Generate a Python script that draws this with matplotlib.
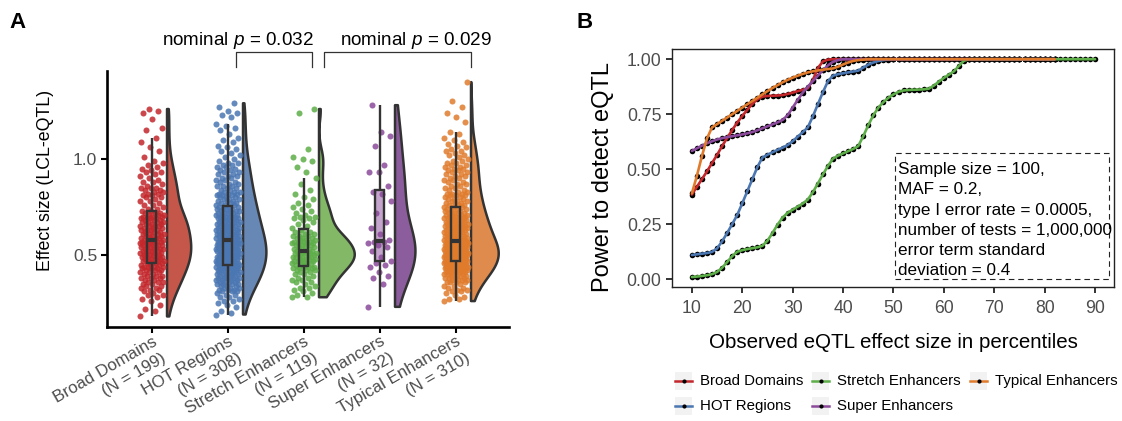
import numpy as np
import matplotlib
matplotlib.use("Agg")
import matplotlib.pyplot as plt
from matplotlib.patches import Rectangle, Polygon
from matplotlib.lines import Line2D
from matplotlib.colors import to_rgba

plt.rcParams["font.family"] = ["Liberation Sans", "DejaVu Sans"]
plt.rcParams["mathtext.fontset"] = "custom"
plt.rcParams["mathtext.rm"] = "Liberation Sans"
plt.rcParams["mathtext.it"] = "Liberation Sans:italic"

# ---------------- data: panel A (effect sizes per region type) ----------------
names = ["Broad Domains", "HOT Regions", "Stretch Enhancers", "Super Enhancers", "Typical Enhancers"]

broad = [0.18, 0.21, 0.22, 0.24,
         0.26, 0.27, 0.28, 0.29, 0.29, 0.30, 0.31, 0.32, 0.32, 0.33, 0.33, 0.34, 0.34, 0.35,
         0.35, 0.36, 0.36, 0.36, 0.37, 0.37, 0.38, 0.38, 0.38, 0.39, 0.39, 0.39, 0.40, 0.40,
         0.41, 0.41, 0.41, 0.42, 0.42, 0.42, 0.43, 0.43, 0.43, 0.44, 0.44, 0.44, 0.44, 0.45, 0.45, 0.45,
         0.46, 0.46, 0.46, 0.46, 0.47, 0.47, 0.47, 0.47, 0.48, 0.48, 0.48, 0.48, 0.49, 0.49, 0.49, 0.49,
         0.50, 0.50, 0.50, 0.50, 0.51, 0.51, 0.51, 0.51, 0.52, 0.52, 0.52, 0.52, 0.53, 0.53, 0.53, 0.53,
         0.54, 0.54, 0.54, 0.54, 0.55, 0.55, 0.55, 0.55, 0.56, 0.56, 0.56, 0.56, 0.57, 0.57, 0.57, 0.57,
         0.58, 0.58, 0.58, 0.58,
         0.59, 0.59, 0.59, 0.59, 0.60, 0.60, 0.60, 0.61, 0.61, 0.61, 0.61, 0.62, 0.62, 0.62,
         0.63, 0.63, 0.63, 0.63, 0.64, 0.64, 0.64, 0.65, 0.65, 0.65, 0.65, 0.66, 0.66, 0.66,
         0.67, 0.67, 0.67, 0.67, 0.68, 0.68, 0.68, 0.69, 0.69, 0.69, 0.69, 0.70, 0.70, 0.70,
         0.71, 0.71, 0.71, 0.72, 0.72, 0.72, 0.73, 0.73,
         0.74, 0.74, 0.75, 0.76, 0.76, 0.77, 0.78, 0.78, 0.79, 0.80, 0.80, 0.81, 0.81, 0.82,
         0.82, 0.83, 0.83, 0.84, 0.84, 0.85, 0.85, 0.85,
         0.86, 0.87, 0.88, 0.88, 0.89, 0.90, 0.91, 0.92, 0.93, 0.93, 0.94, 0.95, 0.96, 0.97, 0.98, 0.99,
         1.01, 1.04, 1.06, 1.09, 1.11, 1.15, 1.16, 1.21, 1.24, 1.25, 1.26]

hot = [0.19, 0.20, 0.21, 0.23, 0.24,
       0.25, 0.26, 0.26, 0.27, 0.28, 0.28, 0.29, 0.29, 0.30,
       0.31, 0.31, 0.31, 0.32, 0.32, 0.32, 0.33, 0.33, 0.33, 0.34, 0.34, 0.34, 0.35, 0.35, 0.35, 0.35,
       0.36, 0.36, 0.36, 0.36, 0.37, 0.37, 0.37, 0.37, 0.38, 0.38, 0.38, 0.38, 0.38,
       0.39, 0.39, 0.39, 0.39, 0.40, 0.40, 0.40, 0.40, 0.40,
       0.41, 0.41, 0.41, 0.41, 0.41, 0.42, 0.42, 0.42, 0.42, 0.42, 0.43, 0.43, 0.43, 0.43, 0.43, 0.43,
       0.44, 0.44, 0.44, 0.44, 0.44, 0.45, 0.45, 0.45, 0.45, 0.45, 0.45,
       0.46, 0.46, 0.46, 0.46, 0.46, 0.46, 0.47, 0.47, 0.47, 0.47, 0.47, 0.47,
       0.48, 0.48, 0.48, 0.48, 0.48, 0.48, 0.49, 0.49, 0.49, 0.49, 0.49, 0.49,
       0.50, 0.50, 0.50, 0.50, 0.50, 0.50, 0.51, 0.51, 0.51, 0.51, 0.51, 0.51,
       0.52, 0.52, 0.52, 0.52, 0.52, 0.52, 0.53, 0.53, 0.53, 0.53, 0.53, 0.53,
       0.54, 0.54, 0.54, 0.54, 0.54, 0.54, 0.55, 0.55, 0.55, 0.55, 0.55, 0.55,
       0.56, 0.56, 0.56, 0.56, 0.56, 0.56, 0.57, 0.57, 0.57, 0.57, 0.57, 0.57,
       0.58, 0.58, 0.58, 0.58, 0.58, 0.58, 0.59, 0.59, 0.59, 0.59, 0.59, 0.60, 0.60, 0.60, 0.60, 0.60,
       0.61, 0.61, 0.61, 0.61, 0.61, 0.62, 0.62, 0.62, 0.62, 0.62, 0.63, 0.63, 0.63, 0.63, 0.63,
       0.64, 0.64, 0.64, 0.64, 0.64, 0.65, 0.65, 0.65, 0.65,
       0.66, 0.66, 0.66, 0.66, 0.66, 0.67, 0.67, 0.67, 0.67, 0.68, 0.68, 0.68, 0.68,
       0.69, 0.69, 0.69, 0.69, 0.70, 0.70, 0.70, 0.70,
       0.71, 0.71, 0.71, 0.71, 0.72, 0.72, 0.72, 0.72, 0.73, 0.73, 0.73, 0.73,
       0.74, 0.74, 0.74, 0.74, 0.75, 0.75, 0.75,
       0.76, 0.76, 0.76, 0.77, 0.77, 0.77, 0.78, 0.78, 0.78, 0.79, 0.79, 0.79, 0.80, 0.80, 0.80,
       0.81, 0.81, 0.81, 0.82, 0.82, 0.82, 0.83, 0.83, 0.83, 0.84, 0.84, 0.85, 0.85,
       0.86, 0.86, 0.86, 0.87, 0.87, 0.88, 0.88, 0.89, 0.89, 0.90, 0.90,
       0.91, 0.91, 0.92, 0.92, 0.93, 0.93, 0.94, 0.94, 0.95,
       0.96, 0.96, 0.97, 0.97, 0.98, 0.98, 0.99, 1.00,
       1.01, 1.02, 1.03, 1.04, 1.05, 1.06, 1.07, 1.09, 1.10, 1.11, 1.13, 1.15,
       1.16, 1.17, 1.18, 1.22, 1.23, 1.24, 1.25, 1.27, 1.29]

stretch = [0.28, 0.28, 0.29, 0.30,
           0.31, 0.32, 0.33, 0.33, 0.34, 0.35,
           0.36, 0.36, 0.37, 0.37, 0.38, 0.38, 0.39, 0.40, 0.40,
           0.41, 0.41, 0.42, 0.42, 0.42, 0.43, 0.43, 0.43, 0.44, 0.44, 0.44, 0.45, 0.45,
           0.46, 0.46, 0.46, 0.46, 0.47, 0.47, 0.47, 0.47, 0.48, 0.48, 0.48, 0.48,
           0.49, 0.49, 0.49, 0.49, 0.50, 0.50, 0.50,
           0.51, 0.51, 0.51, 0.51, 0.51, 0.52, 0.52, 0.52, 0.52, 0.53, 0.53,
           0.54, 0.54, 0.54, 0.55, 0.55, 0.55,
           0.56, 0.56, 0.56, 0.56, 0.57, 0.57, 0.57, 0.58, 0.58, 0.58, 0.59, 0.59, 0.59,
           0.60, 0.60, 0.60, 0.61, 0.61, 0.62, 0.62, 0.63, 0.64, 0.65,
           0.66, 0.67, 0.68, 0.69, 0.69, 0.70, 0.70, 0.71, 0.72, 0.73, 0.74, 0.75,
           0.76, 0.77, 0.79, 0.80, 0.82, 0.84, 0.87, 0.90,
           0.93, 0.96, 0.99, 1.00, 1.01, 1.05, 1.24, 1.26]

superenh = [0.23, 0.35, 0.38, 0.39, 0.41, 0.44, 0.45, 0.46, 0.47, 0.49, 0.52, 0.54, 0.55, 0.56,
            0.57, 0.57, 0.58, 0.61, 0.64, 0.67, 0.72, 0.78, 0.82, 0.83, 0.86, 0.93, 0.93, 0.97,
            1.07, 1.12, 1.14, 1.28]

typical = [0.26, 0.27, 0.27, 0.28, 0.29, 0.30,
           0.31, 0.31, 0.32, 0.32, 0.33, 0.33, 0.34, 0.34, 0.35,
           0.36, 0.36, 0.36, 0.36, 0.37, 0.37, 0.37, 0.37, 0.38, 0.38, 0.38, 0.38,
           0.39, 0.39, 0.39, 0.39, 0.40, 0.40, 0.40, 0.40,
           0.41, 0.41, 0.41, 0.41, 0.41, 0.41, 0.42, 0.42, 0.42, 0.42, 0.42, 0.42,
           0.43, 0.43, 0.43, 0.43, 0.43, 0.43, 0.43, 0.44, 0.44, 0.44, 0.44, 0.44, 0.44, 0.44,
           0.45, 0.45, 0.45, 0.45, 0.45, 0.45, 0.45,
           0.46, 0.46, 0.46, 0.46, 0.46, 0.46, 0.46, 0.47, 0.47, 0.47, 0.47, 0.47, 0.47, 0.47,
           0.48, 0.48, 0.48, 0.48, 0.48, 0.48, 0.48, 0.49, 0.49, 0.49, 0.49, 0.49, 0.49, 0.49,
           0.50, 0.50, 0.50, 0.50, 0.50, 0.50, 0.50,
           0.51, 0.51, 0.51, 0.51, 0.51, 0.51, 0.51, 0.51, 0.52, 0.52, 0.52, 0.52, 0.52, 0.52, 0.52, 0.52,
           0.53, 0.53, 0.53, 0.53, 0.53, 0.53, 0.53, 0.53, 0.54, 0.54, 0.54, 0.54, 0.54, 0.54, 0.54, 0.54,
           0.55, 0.55, 0.55, 0.55, 0.55, 0.55, 0.55, 0.55,
           0.56, 0.56, 0.56, 0.56, 0.56, 0.56, 0.57, 0.57, 0.57, 0.57, 0.57, 0.57,
           0.58, 0.58, 0.58, 0.58, 0.58, 0.58, 0.59, 0.59, 0.59, 0.59, 0.59, 0.60, 0.60, 0.60, 0.60, 0.60,
           0.61, 0.61, 0.61, 0.61, 0.61, 0.62, 0.62, 0.62, 0.62, 0.62, 0.63, 0.63, 0.63, 0.63, 0.63,
           0.64, 0.64, 0.64, 0.64, 0.64, 0.65, 0.65, 0.65, 0.65, 0.65,
           0.66, 0.66, 0.66, 0.66, 0.66, 0.67, 0.67, 0.67, 0.67, 0.68, 0.68, 0.68, 0.68,
           0.69, 0.69, 0.69, 0.69, 0.70, 0.70, 0.70, 0.70,
           0.71, 0.71, 0.71, 0.71, 0.72, 0.72, 0.72, 0.72, 0.73, 0.73, 0.73, 0.74, 0.74, 0.74, 0.75, 0.75, 0.75,
           0.76, 0.76, 0.76, 0.77, 0.77, 0.77, 0.78, 0.78, 0.78, 0.79, 0.79, 0.79, 0.80, 0.80,
           0.81, 0.81, 0.81, 0.82, 0.82, 0.82, 0.83, 0.83, 0.84, 0.84, 0.85, 0.85,
           0.86, 0.86, 0.87, 0.87, 0.88, 0.88, 0.89, 0.89, 0.90, 0.90,
           0.91, 0.91, 0.92, 0.92, 0.93, 0.93, 0.94, 0.94, 0.95, 0.95,
           0.96, 0.96, 0.97, 0.97, 0.98, 0.98, 0.99, 0.99, 1.00,
           1.01, 1.02, 1.02, 1.03, 1.04, 1.04, 1.05, 1.06, 1.07, 1.08, 1.09, 1.10,
           1.11, 1.13, 1.14, 1.19, 1.22, 1.24, 1.27, 1.30, 1.40]

effect = [broad, hot, stretch, superenh, typical]

# nominal p-value brackets (x from / to in category units)
brackets = [(2.11, 3.11, "nominal $p$ = 0.032", 2.13), (3.26, 5.20, "nominal $p$ = 0.029", 4.47)]

# ---------------- data: panel B (power curves) ----------------
percentiles = [10, 11, 12, 13, 14, 15, 16, 17, 18, 19, 20, 21, 22, 23, 24, 25, 26, 27, 28, 29,
               30, 31, 32, 33, 34, 35, 36, 37, 38, 39, 40, 41, 42, 43, 44, 45, 46, 47, 48, 49,
               50, 51, 52, 53, 54, 55, 56, 57, 58, 59, 60, 61, 62, 63, 64, 65, 66, 67, 68, 69,
               70, 71, 72, 73, 74, 75, 76, 77, 78, 79, 80, 81, 82, 83, 84, 85, 86, 87, 88, 89, 90]

power_broad = [0.385, 0.420, 0.455, 0.490, 0.528, 0.565, 0.605, 0.642, 0.678, 0.712,
               0.742, 0.770, 0.797, 0.818, 0.830, 0.833, 0.834, 0.835, 0.837, 0.842,
               0.848, 0.855, 0.861, 0.868, 0.905, 0.960, 0.990, 0.998, 1.0, 1.0,
               1.0, 1.0, 1.0, 1.0, 1.0, 1.0, 1.0, 1.0, 1.0, 1.0,
               1.0, 1.0, 1.0, 1.0, 1.0, 1.0, 1.0, 1.0, 1.0, 1.0,
               1.0, 1.0, 1.0, 1.0, 1.0, 1.0, 1.0, 1.0, 1.0, 1.0,
               1.0, 1.0, 1.0, 1.0, 1.0, 1.0, 1.0, 1.0, 1.0, 1.0,
               1.0, 1.0, 1.0]
power_hot = [0.110, 0.113, 0.116, 0.119, 0.124, 0.140, 0.172, 0.210, 0.250, 0.292,
             0.345, 0.400, 0.455, 0.510, 0.553, 0.566, 0.577, 0.588, 0.598, 0.610,
             0.627, 0.648, 0.668, 0.690, 0.740, 0.795, 0.850, 0.900, 0.925, 0.932,
             0.936, 0.940, 0.944, 0.948, 0.962, 0.975, 0.985, 0.992, 0.996, 0.998,
             1.0, 1.0, 1.0, 1.0, 1.0, 1.0, 1.0, 1.0, 1.0, 1.0,
             1.0, 1.0, 1.0, 1.0, 1.0, 1.0, 1.0, 1.0, 1.0, 1.0,
             1.0, 1.0, 1.0, 1.0, 1.0, 1.0, 1.0, 1.0, 1.0, 1.0,
             1.0, 1.0, 1.0]
power_stretch = [0.010, 0.012, 0.015, 0.018, 0.023, 0.033, 0.052, 0.078, 0.105, 0.125,
                 0.132, 0.137, 0.141, 0.145, 0.152, 0.175, 0.210, 0.248, 0.280, 0.302,
                 0.316, 0.330, 0.344, 0.362, 0.395, 0.435, 0.476, 0.515, 0.548, 0.562,
                 0.572, 0.582, 0.592, 0.605, 0.650, 0.700, 0.745, 0.780, 0.805, 0.825,
                 0.840, 0.852, 0.858, 0.860, 0.861, 0.862, 0.863, 0.866, 0.880, 0.898,
                 0.915, 0.930, 0.945, 0.970, 0.993, 1.0, 1.0, 1.0, 1.0, 1.0,
                 1.0, 1.0, 1.0, 1.0, 1.0, 1.0, 1.0, 1.0, 1.0, 1.0,
                 1.0, 1.0, 1.0, 1.0, 1.0, 1.0, 1.0, 1.0, 1.0, 1.0, 1.0]
power_super = [0.583, 0.595, 0.607, 0.618, 0.627, 0.635, 0.641, 0.646, 0.650, 0.654,
               0.658, 0.663, 0.669, 0.677, 0.686, 0.695, 0.704, 0.713, 0.724, 0.745,
               0.780, 0.815, 0.848, 0.875, 0.900, 0.925, 0.950, 0.972, 0.988, 0.996,
               1.0, 1.0, 1.0, 1.0, 1.0, 1.0, 1.0, 1.0, 1.0, 1.0,
               1.0, 1.0, 1.0, 1.0, 1.0, 1.0, 1.0, 1.0, 1.0, 1.0,
               1.0, 1.0, 1.0, 1.0, 1.0, 1.0, 1.0, 1.0, 1.0, 1.0,
               1.0, 1.0, 1.0, 1.0, 1.0, 1.0, 1.0, 1.0, 1.0, 1.0,
               1.0, 1.0, 1.0]
power_typical = [0.390, 0.470, 0.560, 0.640, 0.690, 0.705, 0.720, 0.735, 0.750, 0.765,
                 0.780, 0.795, 0.810, 0.825, 0.840, 0.855, 0.869, 0.882, 0.895, 0.906,
                 0.916, 0.925, 0.933, 0.940, 0.945, 0.949, 0.952, 0.955, 0.958, 0.966,
                 0.976, 0.985, 0.992, 0.996, 0.998, 1.0, 1.0, 1.0, 1.0, 1.0,
                 1.0, 1.0, 1.0, 1.0, 1.0, 1.0, 1.0, 1.0, 1.0, 1.0,
                 1.0, 1.0, 1.0, 1.0, 1.0, 1.0, 1.0, 1.0, 1.0, 1.0,
                 1.0, 1.0, 1.0, 1.0, 1.0, 1.0, 1.0, 1.0, 1.0, 1.0,
                 1.0, 1.0, 1.0]
power = [power_broad, power_hot, power_stretch, power_super, power_typical]

box_lines = ["Sample size = 100,", "MAF = 0.2,", "type I error rate = 0.0005,",
             "number of tests = 1,000,000", "error term standard", "deviation = 0.4"]

colors = ["#C3272B", "#4A76B2", "#5DAE48", "#8B4A9B", "#E07B2C"]
violin_colors = ["#C4574A", "#6787B5", "#82B866", "#8C5D9D", "#DF8B4D"]
dark = "#333333"
grey = "#4D4D4D"

W, H = 1122, 421
fig = plt.figure(figsize=(W / 100, H / 100), dpi=100)


def kde(v):
    n = len(v)
    q25, q75 = np.percentile(v, [25, 75])
    bw = 0.9 * min(np.std(v, ddof=1), (q75 - q25) / 1.34) * n ** -0.2
    ys = np.linspace(v.min(), v.max(), 300)
    d = np.exp(-0.5 * ((ys[:, None] - v[None, :]) / bw) ** 2).sum(1) / (n * bw * np.sqrt(2 * np.pi))
    return ys, d


# ---------------- panel A ----------------
axA = fig.add_axes([107 / W, 1 - 327 / H, 402 / W, 256 / H])
dens = [kde(np.array(v)) for v in effect]
k = 0.47 / max(d.max() for _, d in dens)

for i, vals in enumerate(effect):
    v = np.array(vals)
    pos = i + 1
    # half violin
    ys, d = dens[i]
    x0 = pos + 0.2
    xs = np.concatenate([[x0], x0 + k * d, [x0]])
    yy = np.concatenate([[ys[0]], ys, [ys[-1]]])
    axA.add_patch(Polygon(np.column_stack([xs, yy]), closed=True, fc=violin_colors[i],
                          ec=dark, lw=1.8, joinstyle="round", zorder=2))
    # jittered points (deterministic spread)
    jit = ((np.arange(len(v)) * 0.6180339887) % 1 - 0.5) * 0.32
    axA.scatter(pos + jit, v, s=19, color=colors[i], alpha=0.85, lw=0, zorder=3)
    # box plot
    q1, med, q3 = np.percentile(v, [25, 50, 75])
    iqr = q3 - q1
    lo = v[v >= q1 - 1.5 * iqr].min()
    hi = v[v <= q3 + 1.5 * iqr].max()
    axA.plot([pos, pos], [lo, q1], color=dark, lw=1.7, zorder=4, solid_capstyle="butt")
    axA.plot([pos, pos], [q3, hi], color=dark, lw=1.7, zorder=4, solid_capstyle="butt")
    axA.add_patch(Rectangle((pos - 0.06, q1), 0.12, q3 - q1, fc=to_rgba(colors[i], 0.5),
                            ec=dark, lw=1.7, zorder=4))
    axA.plot([pos - 0.06, pos + 0.06], [med, med], color=dark, lw=3, zorder=5,
             solid_capstyle="butt")

for x1, x2, label, xt in brackets:
    axA.plot([x1, x1, x2, x2], [1.479, 1.557, 1.557, 1.479], color=dark, lw=0.9, clip_on=False)
    axA.text(xt, 1.594, label, ha="center", va="baseline", fontsize=13.6, clip_on=False)

axA.set_xlim(0.41, 5.70)
axA.set_ylim(0.125, 1.458)
for s in ["top", "right"]:
    axA.spines[s].set_visible(False)
for s in ["left", "bottom"]:
    axA.spines[s].set_linewidth(1.9)
    axA.spines[s].set_color("black")
axA.set_yticks([0.5, 1.0])
axA.set_yticklabels(["0.5", "1.0"])
axA.set_xticks(range(1, 6))
label_size = 12.2
axA.set_xticklabels(names, rotation=30, ha="right", rotation_mode="anchor")
axA.tick_params(axis="y", length=4, width=1.5, color="black", labelsize=12.6,
                labelcolor=grey, pad=3)
axA.tick_params(axis="x", length=4.5, width=1.5, color="black", labelsize=label_size,
                labelcolor=grey, pad=0.5)
# second line of each category label: the group size
line_gap = 13.5  # points between the two label lines
for i, v in enumerate(effect):
    axA.annotate(f"(N = {len(v)})", xy=(i + 1, 0), xycoords=axA.get_xaxis_transform(),
                 xytext=(0.5 * line_gap, -5.0 - 0.866 * line_gap), textcoords="offset points",
                 rotation=30, rotation_mode="anchor", ha="right", va="top",
                 fontsize=label_size, color=grey, annotation_clip=False)
fig.text(46 / W, 1 - 180 / H, "Effect size (LCL-eQTL)", rotation=90, ha="center",
         va="center", fontsize=12.8)
fig.text(9 / W, 1 - 12 / H, "A", fontsize=16, fontweight="bold", va="top", ha="left")

# ---------------- panel B ----------------
axB = fig.add_axes([671.7 / W, 1 - 286.7 / H, 442.3 / W, 237.4 / H])
for i, pw in enumerate(power):
    axB.scatter(percentiles[:len(pw)], pw, s=16, color="black", lw=0, zorder=2)
for i, pw in enumerate(power):
    axB.plot(percentiles[:len(pw)], pw, color=colors[i], lw=1.9, zorder=3,
             solid_joinstyle="round", solid_capstyle="round")

axB.add_patch(Rectangle((50.4, 0.0), 42.4, 0.573, fill=False, ec="#222222", lw=0.8,
                        linestyle=(0, (5, 3.5)), zorder=4))
for j, line in enumerate(box_lines):
    axB.text(50.8, 0.477 - j * 0.0918, line, ha="left", va="baseline", fontsize=12.3, zorder=5)

axB.set_xlim(6, 93.75)
axB.set_ylim(-0.034, 1.045)
axB.set_xticks([10, 20, 30, 40, 50, 60, 70, 80, 90])
axB.set_yticks([0, 0.25, 0.5, 0.75, 1.0])
axB.set_yticklabels(["0.00", "0.25", "0.50", "0.75", "1.00"])
for s in axB.spines.values():
    s.set_linewidth(1.0)
    s.set_color("#222222")
axB.tick_params(length=4.5, width=1.4, color=dark, labelsize=12.7, labelcolor=grey)
axB.tick_params(axis="x", pad=5)
axB.tick_params(axis="y", pad=3)
fig.text(603 / W, 1 - 177 / H, "Power to detect eQTL", rotation=90, ha="center",
         va="center", fontsize=17)
fig.text(893 / W, 1 - 348 / H, "Observed eQTL effect size in percentiles", ha="center",
         va="baseline", fontsize=14.8)
fig.text(577 / W, 1 - 12 / H, "B", fontsize=16, fontweight="bold", va="top", ha="left")

# legend (drawn as ggplot-style keys)
key_x = [675, 675, 812, 812, 970]
key_y = [381, 406, 381, 406, 381]
for i, n in enumerate(names):
    kx, ky = key_x[i], key_y[i]
    fig.add_artist(Rectangle((kx / W, 1 - (ky + 9) / H), 17 / W, 18 / H, fc="#F2F2F2",
                             ec="none", transform=fig.transFigure))
    fig.add_artist(Line2D([kx / W, (kx + 17) / W], [1 - ky / H, 1 - ky / H], color=colors[i],
                          lw=1.8, transform=fig.transFigure))
    fig.add_artist(Line2D([(kx + 8.5) / W], [1 - ky / H], marker="o", ms=3, color="black",
                          mec="none", transform=fig.transFigure))
    fig.text((kx + 25) / W, 1 - ky / H, n, ha="left", va="center", fontsize=10.8)

fig.savefig("out.png", dpi=100)
